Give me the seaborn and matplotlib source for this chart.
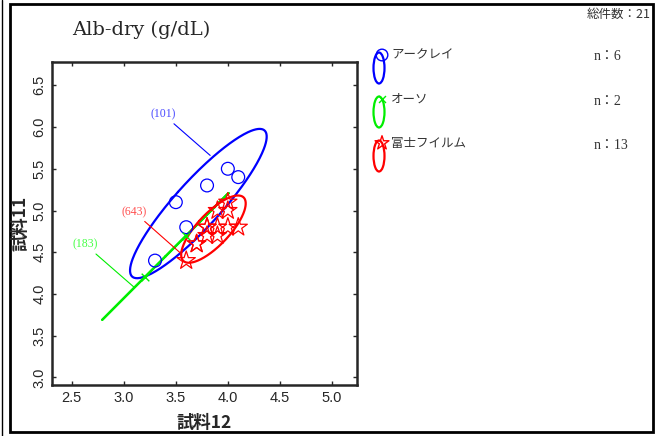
import numpy as np
import pandas as pd
import matplotlib
matplotlib.use('Agg')
import matplotlib.pyplot as plt
from matplotlib.patches import Rectangle, Ellipse
import seaborn as sns

# データ (試料12, 試料11)
ark_x = [3.3, 3.5, 3.6, 3.8, 4.0, 4.1]
ark_y = [4.4, 5.1, 4.8, 5.3, 5.5, 5.4]
ots_x = [3.2, 3.6]
ots_y = [4.2, 4.7]
fuji_x = [3.6, 3.7, 3.7, 3.8, 3.8, 3.9, 4.0, 4.1, 3.8, 3.9, 3.9, 4.0, 4.0]
fuji_y = [4.4, 4.6, 4.6, 4.8, 4.8, 4.8, 4.8, 4.8, 4.7, 4.7, 5.0, 5.0, 5.1]

makers = ['アークレイ', 'オーソ', '富士フイルム']
colors = ['#0000ff', '#00ee00', '#ff0000']
label_colors = ['#4a4aff', '#44ff44', '#ff5050']
markers = ['o', 'x', '*']
ellipse_ids = ['(101)', '(183)', '(643)']
# ラベル位置 / 引出し線の先
label_pos = [(3.38, 6.15), (2.63, 4.59), (3.10, 4.98)]
label_tip = [(3.83, 5.66), (3.10, 4.08), (3.545, 4.49)]

xs = [ark_x, ots_x, fuji_x]
ys = [ark_y, ots_y, fuji_y]
df = pd.concat([pd.DataFrame({'試料12': x, '試料11': y, 'メーカー': m})
                for x, y, m in zip(xs, ys, makers)], ignore_index=True)

sns.set_style('ticks')
plt.rcParams['font.family'] = ['Noto Sans CJK JP', 'DejaVu Sans']


def conf_ellipse(x, y, p=0.90, n=300):
    x = np.asarray(x, float)
    y = np.asarray(y, float)
    k = np.sqrt(-2 * np.log(1 - p))
    vals, vecs = np.linalg.eigh(np.cov(x, y))
    vals = np.clip(vals, 0, None)
    t = np.linspace(0, 2 * np.pi, n)
    circ = np.vstack([np.cos(t), np.sin(t)])
    pts = vecs @ (np.sqrt(vals)[:, None] * circ) * k
    return x.mean() + pts[0], y.mean() + pts[1]


fig = plt.figure(figsize=(6.67, 4.36), dpi=100)
ax = fig.add_axes([0.078, 0.117, 0.457, 0.741])

for i, m in enumerate(makers):
    sub = df[df['メーカー'] == m]
    if markers[i] == 'x':
        sns.scatterplot(data=sub, x='試料12', y='試料11', marker='x', color=colors[i],
                        s=30, linewidth=1.0, ax=ax, legend=False, zorder=3)
    else:
        sns.scatterplot(data=sub, x='試料12', y='試料11', marker=markers[i],
                        facecolor='none', edgecolor=colors[i], s=85 if markers[i] == 'o' else 190,
                        linewidth=0.9, ax=ax, legend=False, zorder=3)
    ex, ey = conf_ellipse(sub['試料12'], sub['試料11'])
    ax.plot(ex, ey, color=colors[i], lw=1.6, zorder=2)
    ax.annotate(ellipse_ids[i], xy=label_tip[i], xytext=label_pos[i],
                color=label_colors[i], fontsize=8.5, family=['Liberation Serif'],
                ha='center', va='center',
                arrowprops=dict(arrowstyle='-', color=colors[i], lw=0.8,
                                shrinkA=0, shrinkB=0))

ax.set_xlim(2.31, 5.24)
ax.set_ylim(2.91, 6.78)
ax.set_xticks(np.arange(2.5, 5.01, 0.5))
ax.set_yticks(np.arange(3.0, 6.51, 0.5))
ax.set_xticklabels([f'{v:.1f}' for v in np.arange(2.5, 5.01, 0.5)],
                   family=['Liberation Sans'], fontsize=10.5)
ax.set_yticklabels([f'{v:.1f}' for v in np.arange(3.0, 6.51, 0.5)],
                   family=['Liberation Sans'], fontsize=10.5, rotation=90, va='center')
ax.tick_params(direction='in', top=True, right=True, length=3, width=1, pad=4)
for sp in ax.spines.values():
    sp.set_linewidth(1.8)
ax.set_xlabel('試料12', fontsize=12.5, fontweight='bold', labelpad=7)
ax.set_ylabel('試料11', fontsize=12.5, fontweight='bold', labelpad=2)

# 枠と凡例 (ピクセル座標)
fx = fig.add_axes([0, 0, 1, 1], zorder=-1)
fx.set_xlim(0, 667)
fx.set_ylim(436, 0)
fx.axis('off')
fx.add_patch(Rectangle((10, 4), 643, 428, fill=False, lw=2, ec='black'))
fx.plot([1.5, 1.5], [0, 436], color='black', lw=1)

fig.text(72 / 667, 1 - 30 / 436, 'Alb-dry (g/dL)', fontsize=14,
         family=['DejaVu Serif', 'Noto Sans CJK JP'], va='center', ha='left')
fig.text(651 / 667, 1 - 14 / 436, '総件数：21', fontsize=9, color='#333333',
         va='center', ha='right')

counts = [len(x) for x in xs]
row_y = [57, 101, 145]
fl = fig.add_axes([0, 0, 1, 1], zorder=5)
fl.set_xlim(0, 667)
fl.set_ylim(436, 0)
fl.axis('off')
for i, m in enumerate(makers):
    yy = row_y[i]
    fl.add_patch(Ellipse((379, yy + 11), 11, 31, fill=False, ec=colors[i], lw=1.6))
    fl.scatter([382], [yy - 2], marker=markers[i], s=70 if markers[i] == 'o' else (25 if markers[i] == 'x' else 110),
               facecolor='none' if markers[i] != 'x' else colors[i],
               edgecolor=colors[i], linewidth=1.0)
    fl.text(391, yy - 2, m, fontsize=9, color='#333333', va='center', ha='left')
    fl.text(594, yy, f'n：{counts[i]}', fontsize=10, color='#333333',
            va='center', ha='left', family=['Liberation Serif', 'Noto Sans CJK JP'])

fig.savefig('out.png', dpi=100)
